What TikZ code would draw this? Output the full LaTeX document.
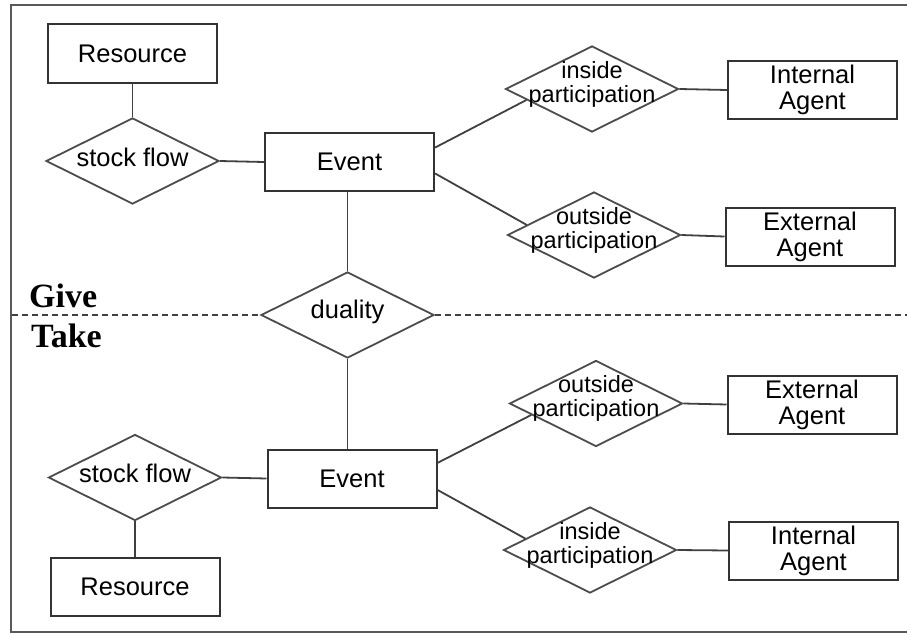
\documentclass[tikz,border=0pt]{standalone}
\usepackage{fontspec}
\setmainfont{Liberation Sans}
\newfontfamily\serifbold{Liberation Serif}
\usetikzlibrary{shapes.geometric,calc}
\begin{document}
\begin{tikzpicture}[x=1pt,y=-1pt,
  ent/.style={draw=black!80, line width=2pt, minimum width=169pt, minimum height=58pt,
    inner sep=0pt, font=\fontsize{25.5}{26}\selectfont, align=center},
  rel/.style={draw=black!70, line width=1.8pt, diamond, minimum width=173pt,
    minimum height=86pt, inner sep=0pt},
  rtext/.style={font=\fontsize{25.5}{26}\selectfont, align=center, inner sep=0pt},
  ptext/.style={font=\fontsize{23.5}{24}\selectfont, align=center, inner sep=0pt},
  conn/.style={draw=black!75, line width=1.8pt},
  sepline/.style={draw=black!75, line width=1.5pt, dash pattern=on 6pt off 4pt},
  side/.style={font=\serifbold\bfseries\fontsize{34}{34}\selectfont, anchor=base west, inner sep=0pt},
  frame/.style={draw=black!65, line width=2.6pt}]
\useasboundingbox (0,0) rectangle (907,634);
% frame
\draw[frame] (907,5) -- (11,5) -- (11,632) -- (907,632);
% give side
\node[ent] (res1) at (132.5,53.5) {Resource};
\node[rel, label={[rtext,yshift=4pt]center:stock flow}] (sf1) at (132.5,161) {};
\node[ent] (ev1) at (349.5,162) {Event};
\node[rel, label={[ptext,yshift=5pt]center:inside\\participation}] (ip1) at (592,89) {};
\node[ent] (ia1) at (812.5,90) {Internal\\Agent};
\node[rel, label={[ptext,yshift=5pt]center:outside\\participation}] (op1) at (594,235) {};
\node[ent] (ea1) at (810,236.5) {External\\Agent};
% duality
\node[rel, label={[rtext,yshift=3pt]center:duality}] (dual) at (347.5,315) {};
% take side
\node[ent] (ev2) at (352,478.5) {Event};
\node[rel, label={[rtext,yshift=4pt]center:stock flow}] (sf2) at (135,477.5) {};
\node[ent] (res2) at (135,586.5) {Resource};
\node[rel, label={[ptext,yshift=5pt]center:outside\\participation}] (op2) at (596,403.5) {};
\node[ent] (ea2) at (812,404.5) {External\\Agent};
\node[rel, label={[ptext,yshift=5pt]center:inside\\participation}] (ip2) at (590,550) {};
\node[ent] (ia2) at (813.5,550.5) {Internal\\Agent};
% side labels
\node[side] (give) at (29,307) {Give};
\node[side] (take) at (31,347) {Take};
% dashed separator
\coordinate (dl) at (12,315);
\coordinate (dr) at (907,315);
\draw[sepline] (dl) -- (dual.west);
\draw[sepline] (dual.east) -- (dr);
% connectors
\draw[conn] (res1.south) -- (sf1.north);
\draw[conn] (sf1.east) -- (ev1.west);
\draw[conn] (dual.north) -- (dual.north |- ev1.south);
\draw[conn] (dual.south) -- (dual.south |- ev2.north);
\draw[conn] ($(ev1.north east)!0.26!(ev1.south east)$) -- ($(ip1.west)!0.25!(ip1.south)$);
\draw[conn] ($(ev1.north east)!0.69!(ev1.south east)$) -- ($(op1.west)!0.23!(op1.north)$);
\draw[conn] (ip1.east) -- (ia1.west);
\draw[conn] (op1.east) -- (ea1.west);
\draw[conn] (sf2.east) -- (ev2.west);
\draw[conn] (sf2.south) -- (res2.north);
\draw[conn] ($(ev2.north east)!0.24!(ev2.south east)$) -- ($(op2.west)!0.26!(op2.south)$);
\draw[conn] ($(ev2.north east)!0.69!(ev2.south east)$) -- ($(ip2.west)!0.26!(ip2.north)$);
\draw[conn] (op2.east) -- (ea2.west);
\draw[conn] (ip2.east) -- (ia2.west);
\end{tikzpicture}
\end{document}
